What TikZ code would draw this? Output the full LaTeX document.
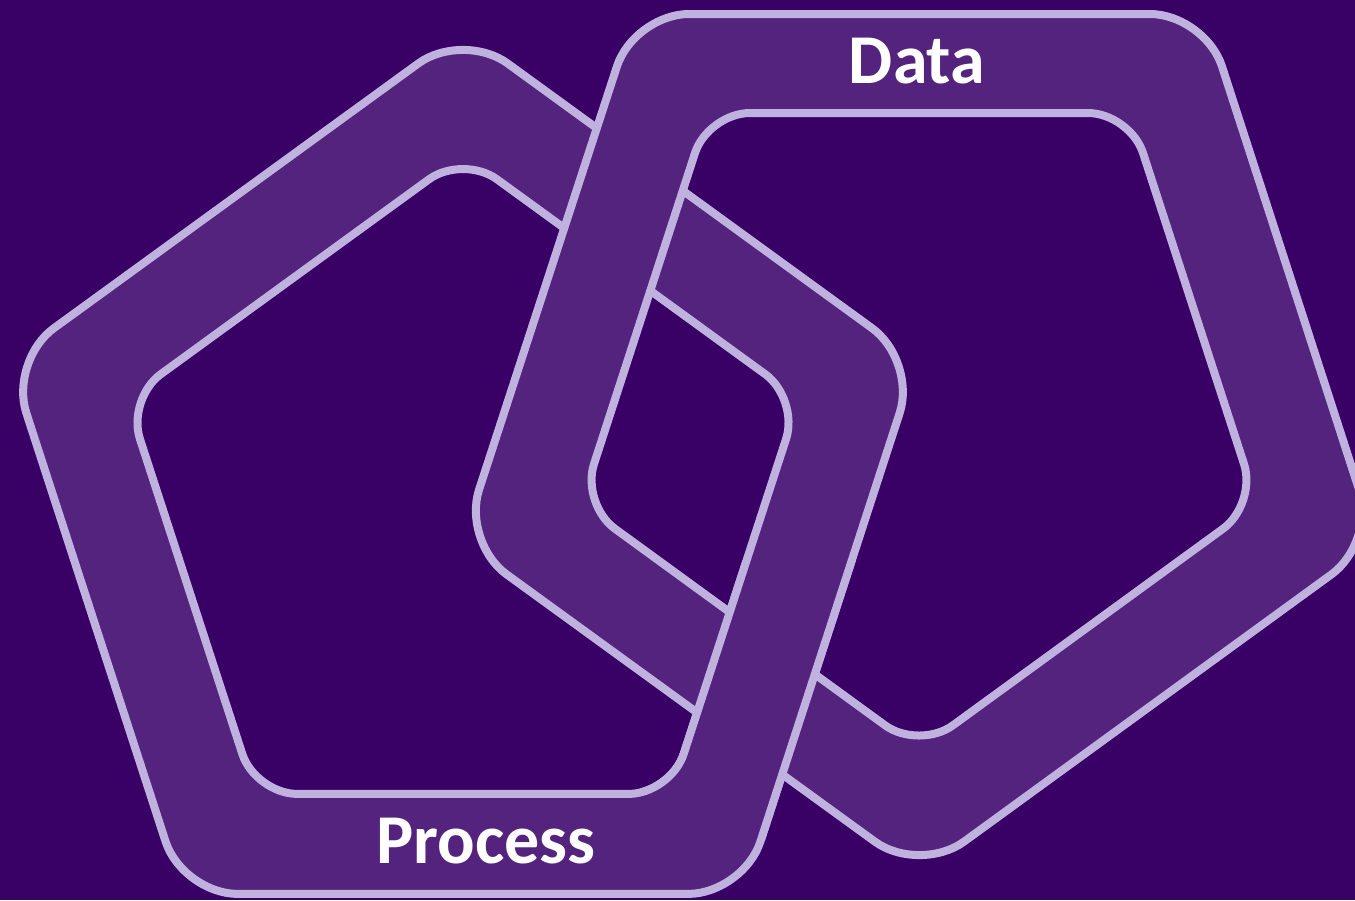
\documentclass[tikz,border=0pt]{standalone}
\usepackage{fontspec}
\setmainfont{Carlito}
\usepackage{tikz}
\usetikzlibrary{calc,positioning}
\definecolor{bgpurple}{RGB}{57,0,102}
\definecolor{ringpurple}{RGB}{83,35,126}
\definecolor{lilac}{RGB}{192,178,222}
\tikzstyle{ring} = [fill=ringpurple, even odd rule]
\tikzstyle{rim} = [draw=lilac, line width=8pt]
\tikzstyle{ringtext} = [draw=none, fill=none, text=white, inner sep=0pt, anchor=base, font=\bfseries\fontsize{70pt}{70pt}\selectfont]
\newcommand{\procouter}{[rounded corners=55pt] ($(PO1)!.5!(PO2)$) -- (PO2) -- (PO3) -- (PO4) -- (PO5) -- (PO1) -- cycle}
\newcommand{\procinner}{[rounded corners=42pt] ($(PI1)!.5!(PI2)$) -- (PI2) -- (PI3) -- (PI4) -- (PI5) -- (PI1) -- cycle}
\newcommand{\dataouter}{[rounded corners=55pt] ($(DO1)!.5!(DO2)$) -- (DO2) -- (DO3) -- (DO4) -- (DO5) -- (DO1) -- cycle}
\newcommand{\datainner}{[rounded corners=42pt] ($(DI1)!.5!(DI2)$) -- (DI2) -- (DI3) -- (DI4) -- (DI5) -- (DI1) -- cycle}

\begin{document}
\begin{tikzpicture}[x=1pt, y=-1pt]

\useasboundingbox (0,0) rectangle (1355,900);
\clip (0,0) rectangle (1355,900);

% corners =============================

% process ring
\coordinate (PO1) at (463,31);
\coordinate (PO2) at (916.7,360.6);
\coordinate (PO3) at (743.4,893.9);
\coordinate (PO4) at (182.6,893.9);
\coordinate (PO5) at (9.3,360.6);
\coordinate (PI1) at (463,154.6);
\coordinate (PI2) at (799.1,398.8);
\coordinate (PI3) at (670.7,793.9);
\coordinate (PI4) at (255.3,793.9);
\coordinate (PI5) at (126.9,398.8);

% data ring
\coordinate (DO1) at (634,14);
\coordinate (DO2) at (1205,14);
\coordinate (DO3) at (1376,542);
\coordinate (DO4) at (919.5,874);
\coordinate (DO5) at (462,542);
\coordinate (DI1) at (708,113);
\coordinate (DI2) at (1130,113);
\coordinate (DI3) at (1257,504);
\coordinate (DI4) at (919,750);
\coordinate (DI5) at (581,504);

% rings =============================

\fill[bgpurple] (0,0) rectangle (1355,900);

\fill[ring] \procouter \procinner;
\draw[rim] \procouter;
\draw[rim] \procinner;

\fill[ring] \dataouter \datainner;
\draw[rim] \dataouter;
\draw[rim] \datainner;

% process ring passes over data ring at the bottom
\begin{scope}
\clip (640,560) rectangle (900,840);
\fill[ring] \procouter \procinner;
\draw[rim] \procouter;
\draw[rim] \procinner;
\end{scope}

% nodes
\node[ringtext] (data) at (917,83) {Data};
\node[ringtext] (process) at (486,863) {Process};

\end{tikzpicture}
\end{document}
